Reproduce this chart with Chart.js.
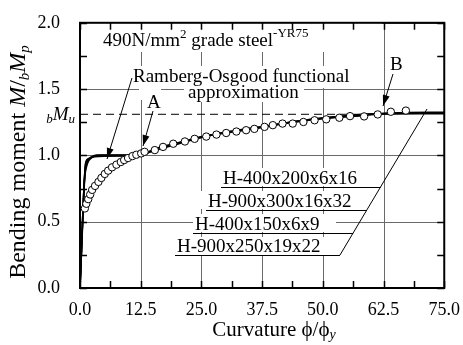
<!DOCTYPE html>
<html lang="en">
<head>
<meta charset="UTF-8">
<title>Bending moment - curvature</title>
<script src="https://cdn.jsdelivr.net/npm/chart.js"></script>
<style>
  body { margin: 0; background: #fff; }
  #wrap { width: 463px; height: 345px; }
</style>
</head>
<body>
<div id="wrap"><canvas id="chart" width="463" height="345"></canvas></div>
<script>
// test results (open circles)
const testCurvature = [1.0, 1.3, 1.7, 2.1, 2.5, 3.1, 3.8, 4.4, 5.1, 5.8, 6.6, 7.5, 8.4, 9.1, 9.9, 10.8, 11.6, 12.6,
  13.3, 15.4, 17.1, 19.2, 21.6, 23.6, 26.0, 28.1, 30.1, 32.2, 34.2, 35.9, 38.0, 39.7, 41.7,
  43.8, 46.0, 48.3, 50.7, 53.4, 55.6, 58.5, 61.3, 64.0, 67.1];
const testMoment = [0.60, 0.635, 0.67, 0.705, 0.74, 0.77, 0.80, 0.83, 0.86, 0.885, 0.91, 0.93, 0.95, 0.965, 0.98, 0.995, 1.005, 1.015,
  1.027, 1.04, 1.064, 1.088, 1.105, 1.125, 1.142, 1.157, 1.169, 1.18, 1.19, 1.20, 1.215, 1.228, 1.24,
  1.24, 1.252, 1.265, 1.272, 1.284, 1.296, 1.294, 1.309, 1.329, 1.338];

// analytical curves for each section
const h400x200X = [0, 0.9, 1.3, 1.8, 2.5, 3.5, 12.5, 15, 20, 25, 30, 37.5, 45, 52, 60, 75];
const h400x200Y = [0, 0.80, 0.91, 0.96, 0.985, 1.0, 1.0, 1.04, 1.09, 1.14, 1.175, 1.215, 1.26, 1.29, 1.31, 1.32];
const h900x300X = [0, 1.1, 1.5, 2.0, 3.0, 4.5, 12.5, 14, 20, 25, 31, 38, 46, 54, 62, 75];
const h900x300Y = [0, 0.92, 0.96, 0.98, 0.995, 1.0, 1.0, 1.02, 1.085, 1.135, 1.18, 1.22, 1.265, 1.295, 1.315, 1.315];
const h400x150X = [0, 0.7, 1.0, 1.4, 2.0, 3.0, 12.0, 13.5, 19, 25, 30, 37, 44, 51, 58, 64, 75];
const h400x150Y = [0, 0.62, 0.86, 0.94, 0.975, 0.99, 1.0, 1.02, 1.08, 1.14, 1.17, 1.21, 1.25, 1.28, 1.30, 1.32, 1.325];
const h900x250X = [0, 1.2, 1.7, 2.4, 3.3, 5.0, 12.5, 16, 22, 28, 35, 42, 50, 57, 63, 75];
const h900x250Y = [0, 0.95, 0.975, 0.99, 1.0, 1.0, 1.005, 1.055, 1.11, 1.16, 1.195, 1.24, 1.28, 1.30, 1.315, 1.32];

// maximum moment level bMu
const bMuLevel = 1.31;
const bMuLineX = [0, 62];

const xLabelValues = [0, 12.5, 25, 37.5, 50, 62.5, 75];
const xTickLabels = ['0.0', '12.5', '25.0', '37.5', '50.0', '62.5', '75.0'];
const yLabelValues = [0, 0.5, 1.0, 1.5, 2.0];
const yTickLabels = ['0.0', '0.5', '1.0', '1.5', '2.0'];

const serif = '"Liberation Serif", "Times New Roman", "DejaVu Serif", serif';
const gridGray = '#6a6a6a';

function pts(xs, ys) {
  return xs.map((x, i) => ({ x: x, y: ys[i] }));
}
function labelIndex(list, v) {
  return list.findIndex(t => Math.abs(t - v) < 1e-6);
}

function curve(xs, ys) {
  return {
    data: pts(xs, ys),
    showLine: true,
    borderColor: '#000',
    borderWidth: 1.6,
    pointRadius: 0,
    cubicInterpolationMode: 'monotone'
  };
}

// draw a run of text pieces with their own font and vertical offset
function drawRich(ctx, x, y, parts) {
  let cx = x;
  parts.forEach(p => {
    ctx.font = p.font;
    ctx.fillText(p.t, cx, y + (p.dy || 0));
    cx += ctx.measureText(p.t).width;
  });
  return cx;
}
function richWidth(ctx, parts) {
  let w = 0;
  parts.forEach(p => { ctx.font = p.font; w += ctx.measureText(p.t).width; });
  return w;
}

function arrow(ctx, x1, y1, x2, y2) {
  ctx.beginPath();
  ctx.moveTo(x1, y1);
  ctx.lineTo(x2, y2);
  ctx.stroke();
  const a = Math.atan2(y2 - y1, x2 - x1);
  const len = 11, half = 3.5;
  ctx.beginPath();
  ctx.moveTo(x2, y2);
  ctx.lineTo(x2 - len * Math.cos(a) + half * Math.sin(a), y2 - len * Math.sin(a) - half * Math.cos(a));
  ctx.lineTo(x2 - len * Math.cos(a) - half * Math.sin(a), y2 - len * Math.sin(a) + half * Math.cos(a));
  ctx.closePath();
  ctx.fill();
}

// text label backgrounds that hide the grid
const labelBoxes = [
  [82, 18, 300, 34],
  [127, 66, 235, 22],
  [184, 86, 120, 16],
  [139, 88, 22, 12],
  [388, 54, 16, 18],
  [221, 168, 141, 18],
  [199, 191, 159, 18],
  [193, 214, 143, 18],
  [175, 237, 151, 18]
];

const overlay = {
  id: 'overlay',
  beforeDatasetsDraw(chart) {
    const ctx = chart.ctx;
    const a = chart.chartArea;
    const xs = chart.scales.x, ys = chart.scales.y;
    ctx.save();
    // grid at labelled values
    ctx.strokeStyle = gridGray;
    ctx.lineWidth = 1;
    ctx.beginPath();
    xLabelValues.forEach(v => {
      const px = Math.round(xs.getPixelForValue(v)) + 0.5;
      ctx.moveTo(px, a.top); ctx.lineTo(px, a.bottom);
    });
    yLabelValues.forEach(v => {
      const py = Math.round(ys.getPixelForValue(v)) + 0.5;
      ctx.moveTo(a.left, py); ctx.lineTo(a.right, py);
    });
    ctx.stroke();
    ctx.fillStyle = '#fff';
    labelBoxes.forEach(b => ctx.fillRect(b[0], b[1], b[2], b[3]));
    ctx.restore();
  },
  afterDraw(chart) {
    const ctx = chart.ctx;
    const a = chart.chartArea;
    const xs = chart.scales.x, ys = chart.scales.y;
    ctx.save();
    ctx.strokeStyle = '#000';
    ctx.fillStyle = '#000';

    // inward tick marks on all four sides
    ctx.lineWidth = 1.5;
    ctx.beginPath();
    xs.ticks.forEach(t => {
      const px = Math.round(xs.getPixelForValue(t.value)) + 0.5;
      ctx.moveTo(px, a.bottom); ctx.lineTo(px, a.bottom - 7);
      ctx.moveTo(px, a.top); ctx.lineTo(px, a.top + 7);
    });
    ys.ticks.forEach(t => {
      const py = Math.round(ys.getPixelForValue(t.value)) + 0.5;
      ctx.moveTo(a.left, py); ctx.lineTo(a.left + 7, py);
      ctx.moveTo(a.right, py); ctx.lineTo(a.right - 7, py);
    });
    ctx.stroke();

    // frame
    ctx.lineWidth = 2;
    ctx.strokeRect(a.left, a.top, a.right - a.left, a.bottom - a.top);

    ctx.textBaseline = 'alphabetic';
    ctx.textAlign = 'left';

    // bMu label on the y axis
    const uy = ys.getPixelForValue(bMuLevel);
    const muParts = [
      { t: 'b', font: 'italic 13px ' + serif, dy: 3 },
      { t: 'M', font: 'italic 19px ' + serif },
      { t: 'u', font: 'italic 13px ' + serif, dy: 3 }
    ];
    drawRich(ctx, 75 - richWidth(ctx, muParts), uy + 6, muParts);

    // y axis title
    ctx.save();
    ctx.translate(25, 0);
    ctx.rotate(-Math.PI / 2);
    const yParts = [
      { t: 'Bending moment ', font: '24px ' + serif },
      { t: 'M', font: 'italic 24px ' + serif },
      { t: '/', font: '24px ' + serif },
      { t: 'b', font: 'italic 15px ' + serif, dy: 4 },
      { t: 'M', font: 'italic 24px ' + serif },
      { t: 'p', font: 'italic 15px ' + serif, dy: 4 }
    ];
    const yw = richWidth(ctx, yParts);
    drawRich(ctx, -162 - yw / 2, 0, yParts);
    ctx.restore();

    // x axis title
    const xParts = [
      { t: 'Curvature ', font: '21px ' + serif },
      { t: '\u03D5/\u03D5', font: '21px ' + serif },
      { t: 'y', font: 'italic 14px ' + serif, dy: 3 }
    ];
    const xw = richWidth(ctx, xParts);
    drawRich(ctx, 274 - xw / 2, 336, xParts);

    // material title
    drawRich(ctx, 103, 46, [
      { t: '490N/mm', font: '19px ' + serif },
      { t: '2', font: '13px ' + serif, dy: -8 },
      { t: ' grade steel', font: '19px ' + serif },
      { t: '-YR75', font: '13px ' + serif, dy: -9 }
    ]);

    ctx.font = '19px ' + serif;
    ctx.fillText('Ramberg-Osgood functional', 133, 82);
    ctx.fillText('approximation', 188, 98);
    ctx.fillText('A', 147, 108);
    ctx.fillText('B', 390, 70);

    // arrows
    ctx.lineWidth = 1;
    arrow(ctx, 132, 78, 107, 159);
    arrow(ctx, 153, 111, 143, 146);
    arrow(ctx, 393, 74, 383, 106);

    // section labels with underlines and leader
    const labels = [
      ['H-400x200x6x16', 223, 187],
      ['H-900x300x16x32', 208, 210],
      ['H-400x150x6x9', 195, 233],
      ['H-900x250x19x22', 177, 255]
    ];
    const lead = (y) => 340 + (255 - y) * (87 / 146);
    labels.forEach(l => {
      ctx.fillText(l[0], l[1], l[2] - 3);
      ctx.beginPath();
      ctx.moveTo(l[1] - 2, l[2] + 0.5);
      ctx.lineTo(lead(l[2]), l[2] + 0.5);
      ctx.stroke();
    });
    ctx.beginPath();
    ctx.moveTo(340, 255);
    ctx.lineTo(427, 109);
    ctx.stroke();

    ctx.restore();
  }
};

new Chart(document.getElementById('chart'), {
  type: 'scatter',
  data: {
    datasets: [
      {
        data: pts(testCurvature, testMoment),
        pointRadius: 3.7,
        pointBackgroundColor: '#fff',
        pointBorderColor: '#000',
        pointBorderWidth: 1,
        showLine: false
      },
      curve(h400x200X, h400x200Y),
      curve(h900x300X, h900x300Y),
      curve(h400x150X, h400x150Y),
      curve(h900x250X, h900x250Y),
      {
        data: pts(bMuLineX, bMuLineX.map(() => bMuLevel)),
        showLine: true,
        borderColor: '#000',
        borderWidth: 1,
        borderDash: [8, 5],
        pointRadius: 0
      }
    ]
  },
  options: {
    responsive: false,
    animation: false,
    layout: { padding: { left: 0, top: 16, right: 18, bottom: 0 } },
    plugins: { legend: { display: false }, tooltip: { enabled: false } },
    scales: {
      x: {
        type: 'linear',
        min: 0, max: 75,
        afterFit: s => { s.height = 57; },
        ticks: {
          stepSize: 6.25,
          autoSkip: false,
          maxRotation: 0,
          padding: 3,
          color: '#000',
          font: { family: serif, size: 18 },
          callback: v => { const i = labelIndex(xLabelValues, v); return i >= 0 ? xTickLabels[i] : ''; }
        },
        grid: { display: false },
        border: { display: false }
      },
      y: {
        min: 0, max: 2,
        afterFit: s => { s.width = 80; },
        ticks: {
          stepSize: 0.25,
          autoSkip: false,
          padding: 12,
          color: '#000',
          font: { family: serif, size: 18 },
          callback: v => { const i = labelIndex(yLabelValues, v); return i >= 0 ? yTickLabels[i] : ''; }
        },
        grid: { display: false },
        border: { display: false }
      }
    }
  },
  plugins: [overlay]
});
</script>
</body>
</html>
